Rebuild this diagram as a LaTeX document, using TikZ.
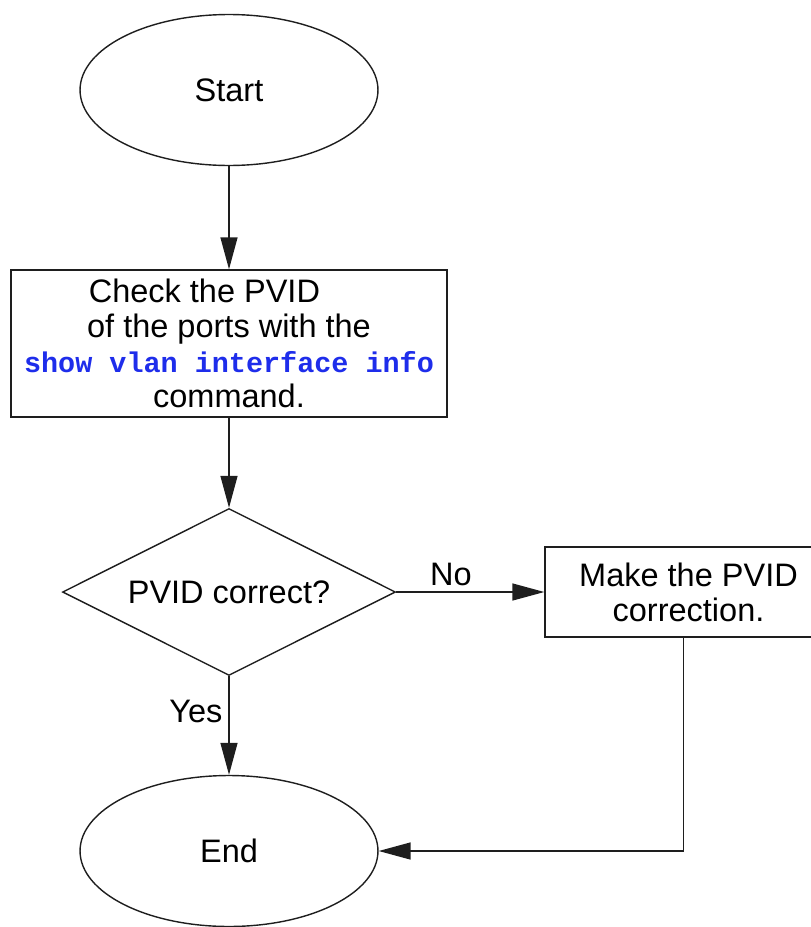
\documentclass[tikz,border=0pt]{standalone}
\usepackage{fontspec}
\setmainfont{Liberation Sans}
\newfontfamily\cmdfont{Liberation Mono}
\usepackage{tikz}
\usetikzlibrary{calc,shapes.geometric,arrows.meta}
\definecolor{cmdblue}{RGB}{30,45,235}
\definecolor{lineclr}{RGB}{30,30,30}
\newcommand{\cmd}[1]{{\cmdfont\bfseries\fontsize{16.2pt}{19.8pt}\selectfont\color{cmdblue}#1}}
\tikzset{
    terminal/.style={draw=lineclr, line width=0.8pt, ellipse, minimum width=5.96cm, minimum height=3.02cm},
    stepbox/.style={draw=lineclr, line width=0.8pt, rectangle, align=center},
    decide/.style={draw=lineclr, line width=0.8pt, diamond, shape aspect=2, minimum width=6.66cm, minimum height=3.34cm, inner sep=0pt},
    flow/.style={draw=lineclr, line width=0.8pt, -{Triangle[length=0.64cm, width=0.34cm]}}
}

\begin{document}
\begin{tikzpicture}[x=0.02cm, y=-0.02cm, font=\fontsize{18.5pt}{19.8pt}\selectfont]
        \useasboundingbox (0,0) rectangle (811,927);
        \node[terminal] (start) at (229,90) {Start};
        \node[stepbox, minimum width=8.72cm, minimum height=2.94cm] (check) at (229,343.5)
            {Check the PVID\hspace*{28pt}\\ of the ports with the\\ \cmd{show vlan interface info}\\ command.};
        \node[decide] (pvid) at (229,592) {PVID correct?};
        \node[stepbox, minimum width=5.74cm, minimum height=1.8cm] (fix) at (688.5,592)
            {Make the PVID\\ correction.};
        \node[terminal] (end) at (229,851) {End};
        \draw[flow] (start) -- (check);
        \draw[flow] (check) -- (pvid);
        \draw[flow] (pvid.east) -- node[pos=0.37, above] {No} (fix.west);
        \draw[flow] (pvid.south) -- node[pos=0.36, left] {Yes} (end.north);
        \draw[flow] ([xshift=-0.1cm]fix.south) |- (end.east);
    \end{tikzpicture}
\end{document}
